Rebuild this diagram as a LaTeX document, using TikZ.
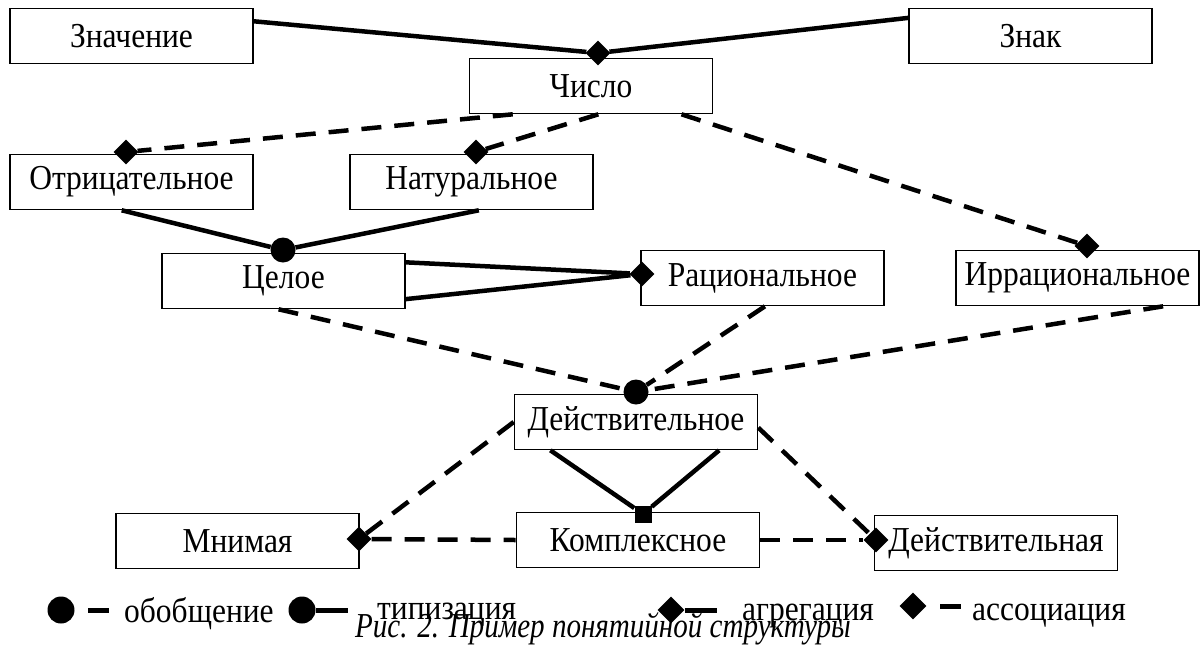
\documentclass[tikz,border=0pt]{standalone}
\usepackage{fontspec}
\setmainfont{Liberation Serif}
\usetikzlibrary{shapes.geometric,calc}
\newcommand\mytxt[1]{\scalebox{0.9}[1]{#1}}
\begin{document}
\begin{tikzpicture}[x=1pt,y=-1pt,
  box/.style={draw,line width=1.6pt,minimum width=243pt,minimum height=55pt,inner sep=0pt,font=\fontsize{35}{40}\selectfont},
  dia/.style={diamond,fill=black,minimum size=25pt,inner sep=0pt},
  dot/.style={circle,fill=black,minimum size=25pt,inner sep=0pt},
  sq/.style={rectangle,fill=black,minimum size=17pt,inner sep=0pt},
  rel/.style={line width=4.5pt},
  assoc/.style={line width=4.5pt,dash pattern=on 20pt off 13pt},
  lbl/.style={font=\fontsize{35}{40}\selectfont,inner sep=0pt,anchor=base west}
]
\useasboundingbox (0,0) rectangle (1202,646);
% boxes
\node[box] (zn) at (131.5,36) {\mytxt{Значение}};
\node[box] (znak) at (1030.5,36) {\mytxt{Знак}};
\node[box] (ch) at (591,86) {\mytxt{Число}};
\node[box] (otr) at (131.5,182) {\mytxt{Отрицательное}};
\node[box] (nat) at (471.5,182) {\mytxt{Натуральное}};
\node[box] (cel) at (283.5,281) {\mytxt{Целое}};
\node[box] (rac) at (762.5,278) {\mytxt{Рациональное}};
\node[box] (irr) at (1077.5,278) {\mytxt{Иррациональное}};
\node[box] (dey) at (636,422) {\mytxt{Действительное}};
\node[box] (mn) at (237.5,541) {\mytxt{Мнимая}};
\node[box] (ko) at (638,540) {\mytxt{Комплексное}};
\node[box] (dya) at (996,543) {\mytxt{Действительная}};
% markers
\node[dia] (d1) at (598,53) {};
\node[dia] (d2) at (126,152) {};
\node[dia] (d3) at (476,152) {};
\node[dia] (d4) at (1087,246) {};
\node[dia] (d5) at (642,274) {};
\node[dia] (d6) at (359,539) {};
\node[dia] (d7) at (876,540) {};
\node[dot] (c1) at (283,250) {};
\node[dot] (c2) at (636,392) {};
\node[sq] (s1) at (643,514) {};
% connectors
\draw[rel] ($(zn.north east)!0.24!(zn.south east)$) -- (d1);
\draw[rel] ($(znak.north west)!0.18!(znak.south west)$) -- (d1);
\draw[assoc] ($(ch.south west)!0.18!(ch.south east)$) -- (d2);
\draw[assoc] ($(ch.south west)!0.53!(ch.south east)$) -- (d3);
\draw[assoc] ($(ch.south west)!0.87!(ch.south east)$) -- (d4);
\draw[rel] ($(otr.south west)!0.46!(otr.south east)$) -- (c1);
\draw[rel] ($(nat.south west)!0.53!(nat.south east)$) -- (c1);
\draw[rel] ($(cel.north east)!0.17!(cel.south east)$) -- (d5);
\draw[rel] ($(cel.north east)!0.82!(cel.south east)$) -- (d5);
\draw[assoc] ($(cel.south west)!0.48!(cel.south east)$) -- (c2);
\draw[assoc] ($(rac.south west)!0.51!(rac.south east)$) -- (c2);
\draw[assoc] ($(irr.south west)!0.85!(irr.south east)$) -- (c2);
\draw[assoc] (dey.west) -- (d6);
\draw[assoc] ($(dey.north east)!0.6!(dey.south east)$) -- (d7);
\draw[rel] ($(dey.south west)!0.15!(dey.south east)$) -- (s1);
\draw[rel] ($(dey.south west)!0.84!(dey.south east)$) -- (s1);
\draw[assoc] (d6) -- (ko.west);
\draw[assoc] (ko.east) -- (d7);
% legend
\node[dot,minimum size=27pt] (l1) at (61,610) {};
\coordinate (l1a) at (88,610);
\coordinate (l1b) at (109,610);
\draw[line width=5pt] (l1a) -- (l1b);
\node[lbl] (t1) at (124,622) {\mytxt{обобщение}};
\node[dot,minimum size=27pt] (l2) at (302,610) {};
\coordinate (l2b) at (348,610);
\draw[line width=5pt] (l2) -- (l2b);
\node[lbl] (t2) at (377,619) {\mytxt{типизация}};
\node[dia,minimum size=27pt] (l3) at (671,610) {};
\coordinate (l3b) at (717,610);
\draw[line width=5pt] (l3) -- (l3b);
\node[lbl] (t3) at (742,620) {\mytxt{агрегация}};
\node[dia,minimum size=27pt] (l4) at (913,606) {};
\coordinate (l4a) at (940,606);
\coordinate (l4b) at (961,606);
\draw[line width=5pt] (l4a) -- (l4b);
\node[lbl] (t4) at (972,620) {\mytxt{ассоциация}};
\node[font=\fontsize{35}{40}\selectfont\itshape,inner sep=0pt,anchor=base] (cap) at (603,637) {\scalebox{0.83}[1]{Рис. 2. Пример понятийной структуры}};
\end{tikzpicture}
\end{document}
